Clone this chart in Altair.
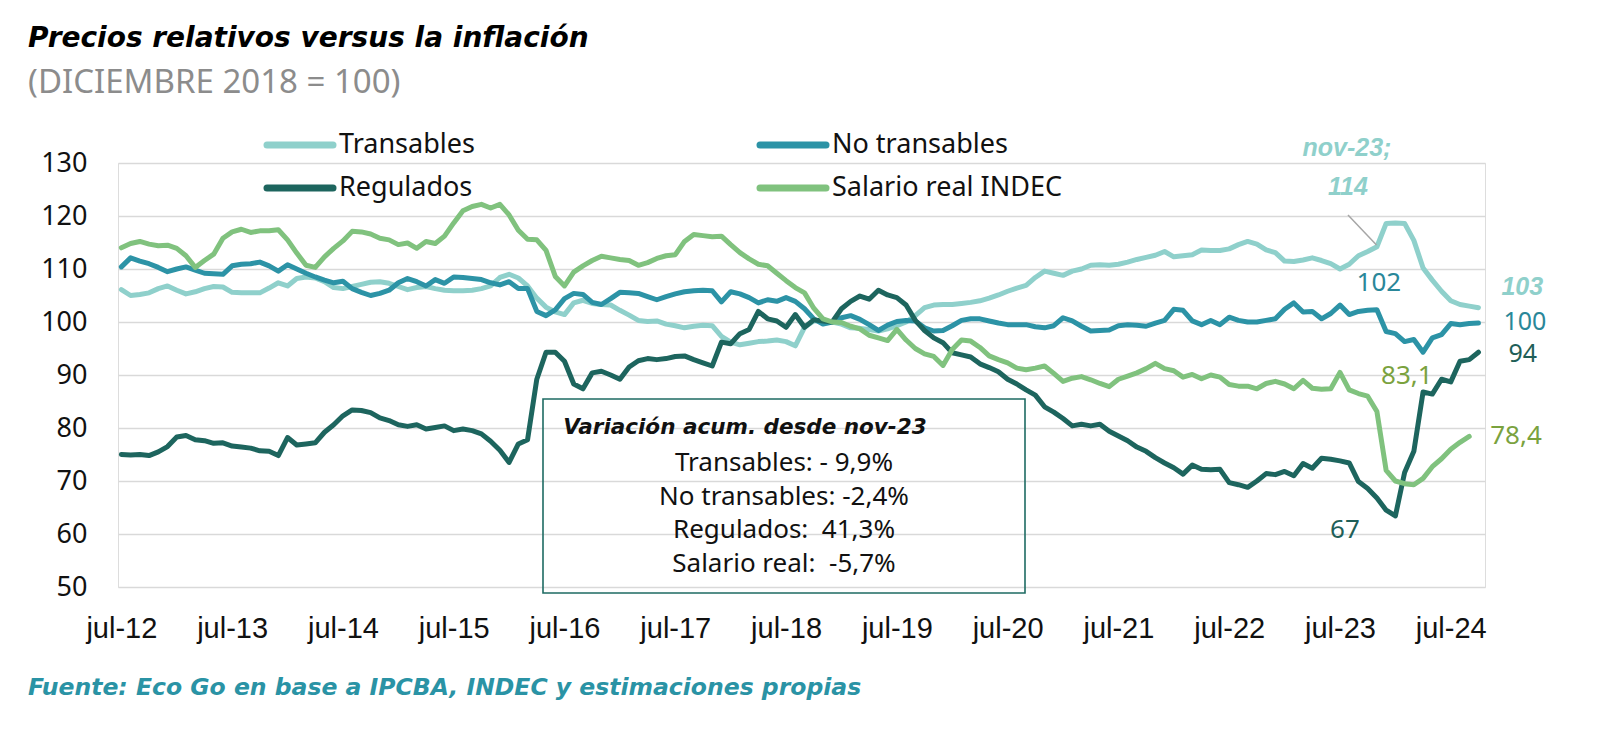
import altair as alt
import pandas as pd

# ---------------- data ----------------
NOMBRES_MES = ["ene", "feb", "mar", "abr", "may", "jun", "jul", "ago", "sep", "oct", "nov", "dic"]
meses = [f"{NOMBRES_MES[(6 + i) % 12]}-{12 + (6 + i) // 12:02d}" for i in range(148)]  # jul-12 .. oct-24
ticks_x = [m for m in meses if m.startswith("jul")]

series = ["Transables", "No transables", "Regulados", "Salario real INDEC"]

transables = [
    106.1, 105.0, 105.2, 105.5, 106.3, 106.8, 106.0, 105.3, 105.7, 106.3,
    106.7, 106.6, 105.6, 105.5, 105.5, 105.5, 106.4, 107.4, 106.8, 108.2,
    108.5, 108.3, 107.6, 106.5, 106.3, 106.7, 107.1, 107.5, 107.6, 107.3,
    106.7, 106.1, 106.5, 106.7, 106.3, 106.0, 105.9, 105.9, 106.0, 106.3,
    106.8, 108.4, 109.0, 108.3, 106.8, 104.5, 102.8, 101.9, 101.4, 103.6,
    104.1, 103.5, 103.3, 103.2, 102.2, 101.3, 100.3, 100.1, 100.2, 99.6,
    99.3, 98.9, 99.2, 99.4, 99.3, 97.3, 96.2, 95.7, 96.0, 96.3,
    96.4, 96.6, 96.3, 95.5, 99.0, 100.2, 100.3, 100.0, 99.6, 98.9,
    98.8, 98.6, 98.3, 98.7, 99.3, 100.0, 101.2, 102.7, 103.2, 103.3,
    103.3, 103.5, 103.7, 104.0, 104.5, 105.1, 105.8, 106.4, 106.9, 108.4,
    109.6, 109.2, 108.8, 109.6, 110.0, 110.7, 110.8, 110.7, 110.9, 111.3,
    111.8, 112.2, 112.6, 113.3, 112.3, 112.5, 112.7, 113.6, 113.5, 113.5,
    113.8, 114.6, 115.2, 114.7, 113.6, 113.1, 111.5, 111.4, 111.7, 112.1,
    111.6, 111.0, 110.0, 110.9, 112.5, 113.3, 114.2, 118.6, 118.7, 118.6,
    115.4, 110.2, 107.9, 105.8, 104.0, 103.3, 103.0, 102.7,
]

no_transables = [
    110.4, 112.1, 111.5, 111.0, 110.3, 109.5, 110.0, 110.4, 109.8, 109.2,
    109.1, 109.0, 110.6, 110.9, 111.0, 111.3, 110.6, 109.6, 110.8, 110.0,
    109.2, 108.5, 107.9, 107.4, 107.7, 106.3, 105.6, 105.0, 105.4, 106.0,
    107.4, 108.2, 107.6, 106.8, 108.0, 107.3, 108.5, 108.4, 108.2, 108.0,
    107.4, 107.0, 107.6, 106.3, 106.3, 102.0, 101.2, 102.3, 104.4, 105.4,
    105.2, 103.7, 103.3, 104.4, 105.6, 105.5, 105.4, 104.8, 104.2, 104.8,
    105.3, 105.7, 105.9, 106.0, 105.9, 103.8, 105.7, 105.3, 104.6, 103.6,
    104.2, 103.9, 104.6, 103.9, 102.5, 100.6, 99.6, 100.0, 100.8, 101.2,
    100.5, 99.5, 98.4, 99.4, 100.1, 100.3, 100.2, 98.9, 98.3, 98.4,
    99.3, 100.3, 100.6, 100.6, 100.2, 99.8, 99.5, 99.5, 99.5, 99.1,
    98.9, 99.3, 100.8, 100.2, 99.2, 98.3, 98.4, 98.5, 99.3, 99.5,
    99.4, 99.2, 99.8, 100.3, 102.4, 102.2, 100.2, 99.5, 100.3, 99.5,
    100.9, 100.3, 100.0, 100.0, 100.3, 100.6, 102.4, 103.6, 101.9, 102.0,
    100.6, 101.6, 103.2, 101.4, 102.0, 102.2, 102.3, 98.2, 97.8, 96.3,
    96.7, 94.3, 97.0, 97.6, 99.7, 99.5, 99.7, 99.8,
]

regulados = [
    75.0, 74.9, 75.0, 74.8, 75.5, 76.5, 78.3, 78.6, 77.8, 77.6,
    77.1, 77.2, 76.6, 76.4, 76.2, 75.7, 75.6, 74.8, 78.2, 76.8,
    77.0, 77.2, 79.2, 80.6, 82.3, 83.4, 83.3, 82.9, 81.9, 81.4,
    80.6, 80.3, 80.6, 79.8, 80.1, 80.4, 79.5, 79.8, 79.5, 78.9,
    77.5, 75.8, 73.5, 77.0, 77.8, 89.2, 94.3, 94.3, 92.6, 88.3,
    87.4, 90.4, 90.7, 90.0, 89.2, 91.5, 92.7, 93.1, 92.9, 93.1,
    93.5, 93.6, 92.9, 92.3, 91.7, 96.2, 95.9, 97.8, 98.6, 102.0,
    100.6, 100.2, 99.0, 101.4, 99.0, 100.4, 100.2, 100.0, 102.5, 103.9,
    104.9, 104.3, 106.0, 105.1, 104.6, 103.2, 100.3, 98.4, 97.0, 96.1,
    94.2, 93.8, 93.4, 92.1, 91.4, 90.6, 89.2, 88.3, 87.2, 86.2,
    84.0, 83.0, 81.8, 80.4, 80.7, 80.4, 80.7, 79.4, 78.5, 77.6,
    76.4, 75.6, 74.4, 73.4, 72.5, 71.3, 73.0, 72.2, 72.1, 72.2,
    69.7, 69.3, 68.8, 70.0, 71.4, 71.2, 71.8, 71.0, 73.3, 72.4,
    74.3, 74.1, 73.8, 73.4, 69.9, 68.6, 66.8, 64.5, 63.4, 71.6,
    75.6, 86.8, 86.4, 89.2, 88.7, 92.6, 92.9, 94.3,
]

salario_real = [
    114.0, 114.8, 115.2, 114.7, 114.4, 114.5, 113.9, 112.5, 110.3, 111.6,
    112.8, 115.8, 117.0, 117.5, 116.9, 117.2, 117.2, 117.4, 115.5, 113.0,
    110.7, 110.3, 112.3, 113.9, 115.3, 117.1, 117.0, 116.6, 115.8, 115.5,
    114.6, 114.9, 113.9, 115.2, 114.8, 116.2, 118.7, 121.0, 121.8, 122.2,
    121.5, 122.2, 120.2, 117.3, 115.6, 115.5, 113.5, 108.6, 106.8, 109.4,
    110.6, 111.6, 112.4, 112.1, 111.8, 111.6, 110.7, 111.2, 112.0, 112.5,
    112.7, 115.2, 116.5, 116.3, 116.1, 116.2, 114.6, 113.1, 111.9, 110.9,
    110.6, 109.2, 107.8, 106.5, 105.5, 102.6, 100.6, 100.0, 99.9, 99.2,
    98.7, 97.5, 97.0, 96.5, 98.6, 96.6, 95.0, 94.0, 93.5, 91.8,
    94.8, 96.6, 96.4, 95.2, 93.6, 92.9, 92.3, 91.3, 91.0, 91.3,
    91.7, 90.3, 88.8, 89.4, 89.7, 89.1, 88.4, 87.8, 89.2, 89.8,
    90.4, 91.2, 92.2, 91.2, 90.8, 89.6, 90.1, 89.3, 90.0, 89.6,
    88.2, 87.9, 87.9, 87.4, 88.4, 88.8, 88.3, 87.4, 89.0, 87.5,
    87.3, 87.4, 90.5, 87.2, 86.5, 86.0, 83.1, 72.0, 70.0, 69.5,
    69.3, 70.5, 72.7, 74.2, 76.0, 77.3, 78.4,
]

NBSP = "\u00a0"
resumen = [
    "Transables: - 9,9%",
    "No transables: -2,4%",
    f"Regulados:{NBSP} 41,3%",
    f"Salario real:{NBSP} -5,7%",
]

# ---------------- table ----------------
frames = []
for nombre, vals in zip(series, [transables, no_transables, regulados, salario_real]):
    frames.append(pd.DataFrame({"mes": meses[:len(vals)], "valor": vals, "serie": nombre}))
df = pd.concat(frames, ignore_index=True)

# ---------------- style ----------------
COLORES = ["#8FD0CB", "#2C93A6", "#1D655E", "#80C27E"]
C_TRANS, C_NOTRANS, C_REG, C_SAL = COLORES
C_NOTRANS_TXT = "#2A8799"
C_REG_TXT = "#1F5F58"
C_SAL_TXT = "#7AA23E"
SANS = "Noto Sans"
BOLDIT = "DejaVu Sans"
W, H = 1367, 424

x_scale = alt.Scale(type="point", domain=meses, padding=0.536, align=0.34)
y_scale = alt.Scale(domain=[50, 130], nice=False, zero=False)

x_enc = alt.X(
    "mes:O", scale=x_scale,
    axis=alt.Axis(values=ticks_x, title=None, labelAngle=0, ticks=False, tickSize=0,
                  domain=False, grid=False, labelFont="Liberation Sans Narrow, Liberation Sans, sans-serif",
                  labelFontSize=29, labelPadding=27, labelColor="#111111"),
)
y_enc = alt.Y(
    "valor:Q", scale=y_scale,
    axis=alt.Axis(values=list(range(50, 131, 10)), title=None, grid=True, gridColor="#D9D9D9",
                  gridWidth=1.5, domain=False, ticks=False, tickSize=0, labelFont=SANS,
                  labelFontSize=27, labelPadding=31, labelColor="#111111"),
)

lineas = alt.Chart(df).mark_line(strokeWidth=5, strokeCap="round", strokeJoin="round").encode(
    x=x_enc, y=y_enc,
    color=alt.Color("serie:N", sort=series, scale=alt.Scale(domain=series, range=COLORES),
                    legend=None),
)

# legend (two rows x two columns, as in the original layout)
uno = alt.Data(values=[{}])
LEG_COL_X = [149, 642]
LEG_ROW_Y = [-18, 25]
leyenda = []
for i, (nombre, col) in enumerate(zip(series, COLORES)):
    cx = LEG_COL_X[i % 2]
    cy = LEG_ROW_Y[i // 2]
    leyenda.append(
        alt.Chart(uno).mark_rule(color=col, strokeWidth=7, strokeCap="round").encode(
            x=alt.value(cx), x2=alt.value(cx + 66), y=alt.value(cy), y2=alt.value(cy)))
    leyenda.append(
        alt.Chart(uno).mark_text(text=nombre, font=SANS, fontSize=27, color="#111111",
                                 align="left", baseline="middle").encode(
            x=alt.value(cx + 72), y=alt.value(cy)))

def etiqueta(vals, idx, texto, color, dx, dy, size=26, bold=False, align="center", font=SANS):
    d = alt.Data(values=[{"mes": meses[idx], "valor": vals[idx]}])
    return alt.Chart(d).mark_text(
        text=texto, color=color, dx=dx, dy=dy, fontSize=size, font=font, align=align,
        baseline="middle", fontWeight="bold" if bold else "normal",
        fontStyle="italic" if bold else "normal",
    ).encode(x=alt.X("mes:O", scale=x_scale), y=alt.Y("valor:Q", scale=y_scale))

IDX_NOV23 = meses.index("nov-23")
anot = [
    etiqueta(transables, IDX_NOV23, "nov-23;", C_TRANS, -30, -99, 25, True, font="Liberation Sans"),
    etiqueta(transables, IDX_NOV23, "114", C_TRANS, -29, -60, 25, True, font="Liberation Sans"),
    etiqueta(transables, 147, "103", C_TRANS, 23, -21, 25, True, "left", font="Liberation Sans"),
    etiqueta(no_transables, IDX_NOV23, "102", C_NOTRANS_TXT, 2, -27),
    etiqueta(no_transables, 147, "100", C_NOTRANS_TXT, 25, -1, 25, align="left"),
    etiqueta(regulados, 147, "94", C_REG_TXT, 30, 2, 25, align="left"),
    etiqueta(regulados, IDX_NOV23, "67", C_REG_TXT, -32, 32),
    etiqueta(salario_real, IDX_NOV23, "83,1", C_SAL_TXT, 30, -36),
    etiqueta(salario_real, 146, "78,4", C_SAL_TXT, 21, 0, align="left"),
]

guia = alt.Chart(uno).mark_rule(color="#A6A6A6", strokeWidth=1.5).encode(
    x=alt.value(1230), y=alt.value(52), x2=alt.value(1258.5), y2=alt.value(82))

caja = alt.Chart(uno).mark_rect(fillOpacity=0, stroke="#1E6B63", strokeWidth=1.6).encode(
    x=alt.value(425), x2=alt.value(907), y=alt.value(236), y2=alt.value(430))

caja_titulo = alt.Chart(uno).mark_text(
    text="Variación acum. desde nov-23", font=BOLDIT, fontSize=21.5, fontWeight="bold",
    fontStyle="italic", color="#111111", align="center", baseline="middle",
).encode(x=alt.value(627), y=alt.value(265))

caja_lineas = [
    alt.Chart(uno).mark_text(text=t, font=SANS, fontSize=26, color="#111111",
                             align="center", baseline="middle").encode(
        x=alt.value(666), y=alt.value(300 + 33.5 * i))
    for i, t in enumerate(resumen)
]

titulo = alt.Chart(uno).mark_text(
    text="Precios relativos versus la inflación", font=BOLDIT, fontSize=28, fontWeight="bold",
    fontStyle="italic", color="#000000", align="left", baseline="alphabetic",
).encode(x=alt.value(-90), y=alt.value(-116))

subtitulo = alt.Chart(uno).mark_text(
    text="(DICIEMBRE 2018 = 100)", font=SANS, fontSize=33, color="#8C8C8C",
    align="left", baseline="alphabetic",
).encode(x=alt.value(-90), y=alt.value(-70))

fuente = alt.Chart(uno).mark_text(
    text="Fuente: Eco Go en base a IPCBA, INDEC y estimaciones propias", font=BOLDIT,
    fontSize=23.5, fontWeight="bold", fontStyle="italic", color="#2A93A5",
    align="left", baseline="alphabetic",
).encode(x=alt.value(-90), y=alt.value(532))

chart = alt.layer(
    lineas, *leyenda, *anot, guia, caja, caja_titulo, *caja_lineas, titulo, subtitulo, fuente
).properties(
    width=W, height=H,
    autosize=alt.AutoSizeParams(type="none"),
    padding={"left": 110, "top": 155, "right": 100, "bottom": 125},
).configure_view(stroke=None).configure(background="white")

chart.save("out.html", embed_options={"renderer": "svg", "actions": False})
